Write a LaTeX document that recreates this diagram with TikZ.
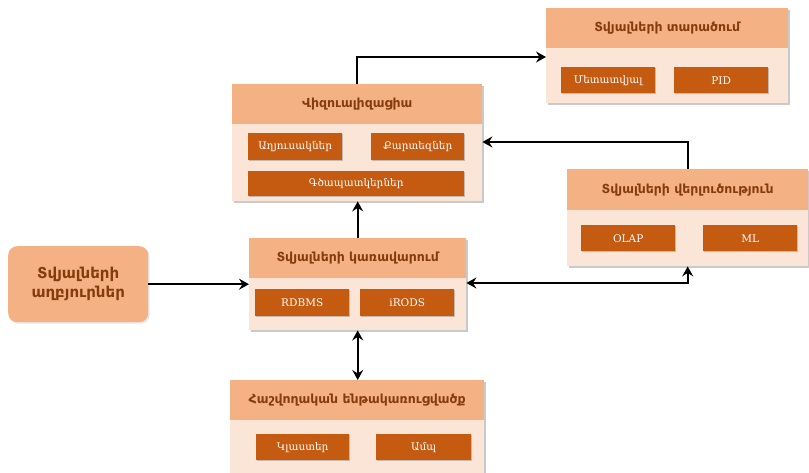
\documentclass[tikz,border=0pt]{standalone}
\usepackage{fontspec}
\setmainfont{DejaVu Serif}
\setsansfont{DejaVu Sans}
\usetikzlibrary{arrows.meta,shadows}
\definecolor{hdr}{HTML}{F4B183}
\definecolor{bdy}{HTML}{FBE5D6}
\definecolor{inr}{HTML}{C55A11}
\definecolor{htxt}{HTML}{843C0C}
\begin{document}
\begin{tikzpicture}[x=1pt,y=-1pt,
  bodybox/.style={anchor=north west,fill=bdy,draw=none,inner sep=0pt,
    drop shadow={shadow xshift=1.5pt,shadow yshift=-1.5pt,opacity=0.35,fill=black!60}},
  headbox/.style={anchor=north west,fill=hdr,draw=none,inner sep=0pt,minimum height=40pt,
    font=\sffamily\bfseries\fontsize{12.5}{15}\selectfont,text=htxt},
  itembox/.style={anchor=north west,fill=inr,draw=none,inner sep=0pt,minimum height=26pt,
    font=\rmfamily\fontsize{10.5}{12}\selectfont,text=white,
    drop shadow={shadow xshift=1.2pt,shadow yshift=-1.2pt,opacity=0.35,fill=black!60}},
  tip/.style={Stealth[length=10pt,width=11pt,inset=3.5pt]},
  conn/.style={line width=2.2pt,black,-{Stealth[length=10pt,width=11pt,inset=3.5pt]}},
  conn2/.style={line width=2.2pt,black,{Stealth[length=10pt,width=11pt,inset=3.5pt]}-{Stealth[length=10pt,width=11pt,inset=3.5pt]}}
]
\useasboundingbox (0,0) rectangle (809,473);

% Data sources
\node[anchor=north west,fill=hdr,rounded corners=9pt,minimum width=140pt,minimum height=76pt,
  inner sep=0pt,align=center,font=\sffamily\bfseries\fontsize{15}{19}\selectfont,text=htxt,
  drop shadow={shadow xshift=1.5pt,shadow yshift=-1.5pt,opacity=0.2,fill=black!50}]
  (src) at (8,246) {Տվյալների\\աղբյուրներ};

% Distribution
\node[bodybox,minimum width=242pt,minimum height=95pt] (dist) at (546,8) {};
\node[headbox,minimum width=242pt] (disth) at (546,8) {Տվյալների տարածում};
\node[itembox,minimum width=94pt] (meta) at (561,67) {Մետատվյալ};
\node[itembox,minimum width=94pt] (pid) at (674,67) {PID};

% Visualization
\node[bodybox,minimum width=250pt,minimum height=117pt] (viz) at (232,84) {};
\node[headbox,minimum width=250pt] (vizh) at (232,84) {Վիզուալիզացիա};
\node[itembox,minimum width=94pt,minimum height=27pt] (tab) at (248,133) {Աղյուսակներ};
\node[itembox,minimum width=93pt,minimum height=27pt] (map) at (371,133) {Քարտեզներ};
\node[itembox,minimum width=216pt,minimum height=25pt] (chart) at (248,171) {Գծապատկերներ};

% Management
\node[bodybox,minimum width=217pt,minimum height=92pt] (mgmt) at (249,238) {};
\node[headbox,minimum width=217pt] (mgmth) at (249,238) {Տվյալների կառավարում};
\node[itembox,minimum width=94pt,minimum height=27pt] (rdb) at (255,289) {RDBMS};
\node[itembox,minimum width=94pt,minimum height=27pt] (irods) at (360,289) {iRODS};

% Analysis
\node[bodybox,minimum width=241pt,minimum height=97pt] (anal) at (567,169) {};
\node[headbox,minimum width=241pt,minimum height=41pt] (analh) at (567,169) {Տվյալների վերլուծություն};
\node[itembox,minimum width=94pt] (olap) at (581,225) {OLAP};
\node[itembox,minimum width=94pt] (ml) at (703,225) {ML};

% Computing infrastructure
\node[bodybox,minimum width=254pt,minimum height=110pt] (comp) at (230,380) {};
\node[headbox,minimum width=254pt] (comph) at (230,380) {Հաշվողական ենթակառուցվածք};
\node[itembox,minimum width=93pt] (clus) at (256,434) {Կլաստեր};
\node[itembox,minimum width=95pt] (cloud) at (376,434) {Ամպ};

% Connectors
\draw[conn] (src.east) -- (mgmt.west |- src.east);
\draw[conn] (mgmth.north) -- (mgmth.north |- viz.south);
\draw[conn] (vizh.north) |- (dist.west |- 0,57);
\draw[conn] (analh.north) |- (viz.east |- 0,142);
\draw[conn2] (mgmt.east |- 0,283) -| (anal.south);
\draw[conn2] (mgmt.south) -- (mgmt.south |- comph.north);
\end{tikzpicture}
\end{document}
